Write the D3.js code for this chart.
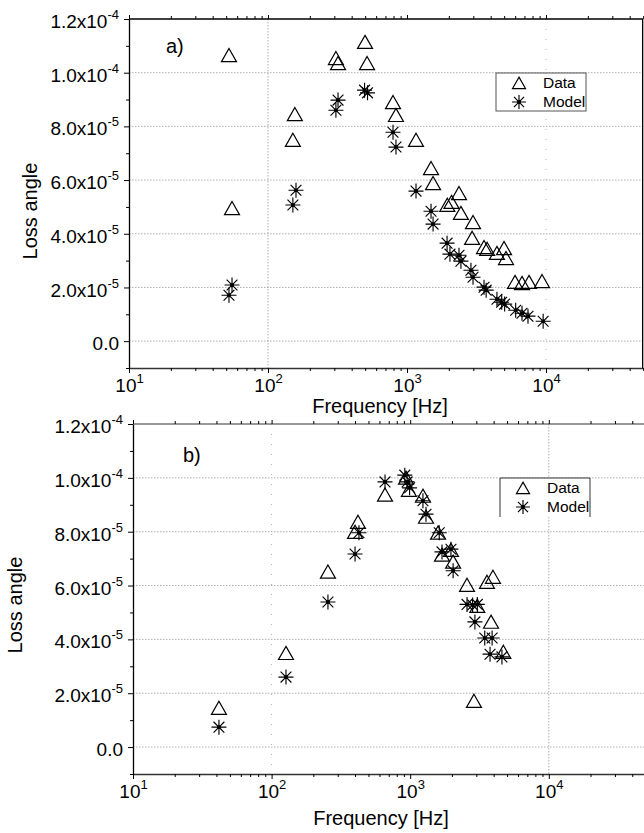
<!DOCTYPE html>
<html>
<head>
<meta charset="utf-8">
<script src="https://cdn.jsdelivr.net/npm/d3@7"></script>
<style>
  body { margin: 0; background: #fff; }
  svg { display: block; font-family: "Liberation Sans", Arial, sans-serif; }
</style>
</head>
<body>
<div id="app"></div>
<script>
// panel a) values
const freqA_data = [52.4, 55.1, 151, 156, 308, 319, 499, 516, 793, 833, 1161, 1489, 1540, 1950, 2090, 2366, 2443, 2940, 2985, 3582, 3770, 4436, 4990, 5155, 5985, 6720, 7550, 9360];
const lossA_data = [10.65, 4.95, 7.49, 8.45, 10.54, 10.35, 11.14, 10.35, 8.90, 8.42, 7.49, 6.44, 5.88, 5.07, 5.18, 5.51, 4.77, 3.84, 4.43, 3.50, 3.43, 3.28, 3.46, 3.09, 2.20, 2.16, 2.20, 2.23].map(v => v * 1e-5);
const freqA_model = [52.4, 55.1, 151, 159, 308, 319, 495, 520, 793, 833, 1161, 1489, 1540, 1942, 2037, 2366, 2443, 2884, 2985, 3582, 3710, 4436, 4800, 5040, 6050, 6720, 7420, 9540];
const lossA_model = [1.71, 2.09, 5.07, 5.62, 8.60, 8.98, 9.35, 9.25, 7.78, 7.23, 5.59, 4.84, 4.36, 3.65, 3.24, 3.20, 2.98, 2.64, 2.38, 2.01, 1.90, 1.56, 1.45, 1.38, 1.15, 1.04, 0.93, 0.74].map(v => v * 1e-5);

// panel b)
const freqB_data = [41.7, 127, 255, 400, 420, 658, 933, 979, 1236, 1300, 1589, 1696, 1968, 2040, 2570, 2884, 3050, 3580, 3830, 3955, 4700];
const lossB_data = [1.45, 3.49, 6.51, 7.99, 8.36, 9.37, 10.0, 9.55, 9.33, 8.55, 7.96, 7.14, 7.32, 6.88, 6.02, 1.71, 5.24, 6.13, 4.65, 6.32, 3.53].map(v => v * 1e-5);
const freqB_model = [41.7, 127, 255, 400, 427, 658, 914, 950, 990, 1236, 1300, 1620, 1696, 1968, 2040, 2570, 2820, 2930, 3050, 3450, 3767, 3900, 4590];
const lossB_model = [0.74, 2.60, 5.39, 7.17, 7.96, 9.85, 10.1, 9.85, 9.63, 9.15, 8.65, 7.96, 7.25, 7.35, 6.55, 5.30, 5.28, 4.65, 5.30, 4.05, 3.45, 4.05, 3.35].map(v => v * 1e-5);

// axes
const freqTicks = [10, 100, 1000, 10000];
const freqExp = ['1', '2', '3', '4'];
const lossTicks = [0, 2e-5, 4e-5, 6e-5, 8e-5, 1e-4, 1.2e-4];
const lossMant = ['0.0', '2.0x10', '4.0x10', '6.0x10', '8.0x10', '1.0x10', '1.2x10'];
const lossExp = ['', '-5', '-5', '-5', '-5', '-4', '-4'];
const legendNames = ['Data', 'Model'];

const W = 644, H = 833;
const svg = d3.select('#app').append('svg').attr('width', W).attr('height', H);

const minorF = [];
for (let e = 1; e <= 4; e++) for (let k = 2; k <= 9; k++) { const v = k * Math.pow(10, e); if (v <= 50000) minorF.push(v); }
const minorL = [-1e-5, 1e-5, 3e-5, 5e-5, 7e-5, 9e-5, 1.1e-4];

const triPath = (s) => `M0,${-s * 0.9}L${s},${s * 0.85}L${-s},${s * 0.85}Z`;
const starPath = (r) => {
  const d = r * 0.72;
  return `M0,${-r}V${r}M${-r},0H${r}M${-d},${-d}L${d},${d}M${-d},${d}L${d},${-d}`;
};

function drawTri(g, x, y, s) {
  g.append('path').attr('transform', `translate(${x},${y})`).attr('d', triPath(s))
    .attr('fill', 'none').attr('stroke', '#000').attr('stroke-width', 1.2);
}
function drawStar(g, x, y, r) {
  g.append('path').attr('transform', `translate(${x},${y})`).attr('d', starPath(r))
    .attr('fill', 'none').attr('stroke', '#000').attr('stroke-width', 1.15);
  g.append('circle').attr('cx', x).attr('cy', y).attr('r', 1.9).attr('fill', '#000');
}

function panel(cfg) {
  const g = svg.append('g');
  const x = d3.scaleLog().domain([10, 50000]).range([cfg.left, cfg.left + cfg.decade * Math.log10(5000)]);
  const y = d3.scaleLinear().domain([-1e-5, 1.2e-4]).range([cfg.bottom, cfg.top]);
  const right = Math.min(x(50000), W);

  // grid
  g.selectAll('.hg').data(lossTicks.slice(0, 6)).join('line')
    .attr('x1', cfg.left).attr('x2', right).attr('y1', d => y(d)).attr('y2', d => y(d))
    .attr('stroke', '#999').attr('stroke-width', 0.8).attr('stroke-dasharray', '1.5,1.5');
  cfg.vgrid.forEach(v => {
    g.append('line').attr('x1', x(v.f)).attr('x2', x(v.f)).attr('y1', cfg.top).attr('y2', cfg.bottom)
      .attr('stroke', '#999').attr('stroke-width', 0.8).attr('stroke-dasharray', v.dash);
  });

  // frame lines
  g.append('line').attr('x1', cfg.left).attr('x2', right).attr('y1', cfg.top).attr('y2', cfg.top)
    .attr('stroke', cfg.topColor).attr('stroke-width', 1.3);
  if (cfg.rightBorder) {
    g.append('line').attr('x1', right - 0.5).attr('x2', right - 0.5).attr('y1', cfg.top).attr('y2', cfg.bottom)
      .attr('stroke', '#000').attr('stroke-width', 1.3);
  }

  // bottom axis
  const xb = g.append('g').attr('transform', `translate(0,${cfg.bottom})`)
    .call(d3.axisBottom(x).tickValues(freqTicks).tickSize(5).tickSizeOuter(0).tickPadding(6));
  xb.select('.domain').attr('stroke', '#333').attr('stroke-width', 1.3);
  xb.selectAll('.tick text').text(null).attr('font-size', 19).attr('fill', '#000')
    .each(function (d, i) {
      const t = d3.select(this);
      t.append('tspan').text('10');
      t.append('tspan').attr('dy', -9).attr('font-size', 13).text(freqExp[i]);
    });
  g.append('g').attr('transform', `translate(0,${cfg.bottom})`)
    .call(d3.axisBottom(x).tickValues(minorF).tickSize(3).tickFormat(''))
    .call(a => a.select('.domain').remove());

  // top ticks
  g.append('g').attr('transform', `translate(0,${cfg.top})`)
    .call(d3.axisTop(x).tickValues(freqTicks).tickSize(4).tickFormat(''))
    .call(a => a.select('.domain').remove());
  g.append('g').attr('transform', `translate(0,${cfg.top})`)
    .call(d3.axisTop(x).tickValues(minorF).tickSize(3).tickFormat(''))
    .call(a => a.select('.domain').remove());

  // left axis
  const yl = g.append('g').attr('transform', `translate(${cfg.left},0)`)
    .call(d3.axisLeft(y).tickValues(lossTicks).tickSize(5).tickSizeOuter(0).tickPadding(5));
  yl.select('.domain').attr('stroke', '#000').attr('stroke-width', 1.3);
  yl.selectAll('.tick text').text(null).attr('font-size', 19).attr('fill', '#000').attr('dy', '0.45em')
    .each(function (d, i) {
      const t = d3.select(this);
      t.append('tspan').text(lossMant[i]);
      if (lossExp[i]) t.append('tspan').attr('dy', -9).attr('font-size', 13).text(lossExp[i]);
    });
  g.append('g').attr('transform', `translate(${cfg.left},0)`)
    .call(d3.axisLeft(y).tickValues(minorL).tickSize(3).tickFormat(''))
    .call(a => a.select('.domain').remove());

  // titles
  g.append('text').attr('x', cfg.xTitle[0]).attr('y', cfg.xTitle[1]).attr('text-anchor', 'middle')
    .attr('font-size', 20).text('Frequency [Hz]');
  g.append('text').attr('transform', `translate(${cfg.yTitle[0]},${cfg.yTitle[1]}) rotate(-90)`)
    .attr('text-anchor', 'middle').attr('dy', '0.35em').attr('font-size', 20).text('Loss angle');
  g.append('text').attr('x', cfg.tag[0]).attr('y', cfg.tag[1]).attr('font-size', 20).text(cfg.tagText);

  // points
  const pts = g.append('g');
  cfg.fData.forEach((f, i) => drawTri(pts, x(f), y(cfg.lData[i]), 7.5));
  cfg.fModel.forEach((f, i) => drawStar(pts, x(f), y(cfg.lModel[i]), 7.5));

  // legend
  const L = cfg.legend;
  const lg = g.append('g');
  lg.append('rect').attr('x', L.x).attr('y', L.y).attr('width', L.w).attr('height', L.h).attr('fill', '#fff');
  if (L.full) {
    lg.append('rect').attr('x', L.x).attr('y', L.y).attr('width', L.w).attr('height', L.h)
      .attr('fill', 'none').attr('stroke', '#555').attr('stroke-width', 1);
  } else {
    lg.append('path').attr('d', `M${L.x},${L.y + L.h}V${L.y}H${L.x + L.w}V${L.y + L.h}`)
      .attr('fill', 'none').attr('stroke', '#333').attr('stroke-width', 1);
  }
  drawTri(lg, L.x + 23, L.y + 10, 6.5);
  drawStar(lg, L.x + 23, L.y + 29, 7);
  legendNames.forEach((n, i) => {
    lg.append('text').attr('x', L.x + 47).attr('y', L.y + 15 + i * 19).attr('font-size', 15.5).text(n);
  });
}

panel({
  left: 129, top: 19, bottom: 368, decade: 139, topColor: '#000', rightBorder: true,
  vgrid: [{ f: 100, dash: '1.5,1.5' }, { f: 10000, dash: '1,9' }],
  xTitle: [380, 413], yTitle: [30, 211], tag: [166, 53], tagText: 'a)',
  fData: freqA_data, lData: lossA_data, fModel: freqA_model, lModel: lossA_model,
  legend: { x: 496, y: 73, w: 90, h: 38, full: true }
});
panel({
  left: 133, top: 424, bottom: 774, decade: 138.6, topColor: '#777', rightBorder: false,
  vgrid: [{ f: 100, dash: '1,9' }, { f: 10000, dash: '1.5,1.5' }],
  xTitle: [381, 825], yTitle: [15, 605], tag: [183, 462], tagText: 'b)',
  fData: freqB_data, lData: lossB_data, fModel: freqB_model, lModel: lossB_model,
  legend: { x: 500, y: 478, w: 90, h: 39, full: false }
});
</script>
</body>
</html>
